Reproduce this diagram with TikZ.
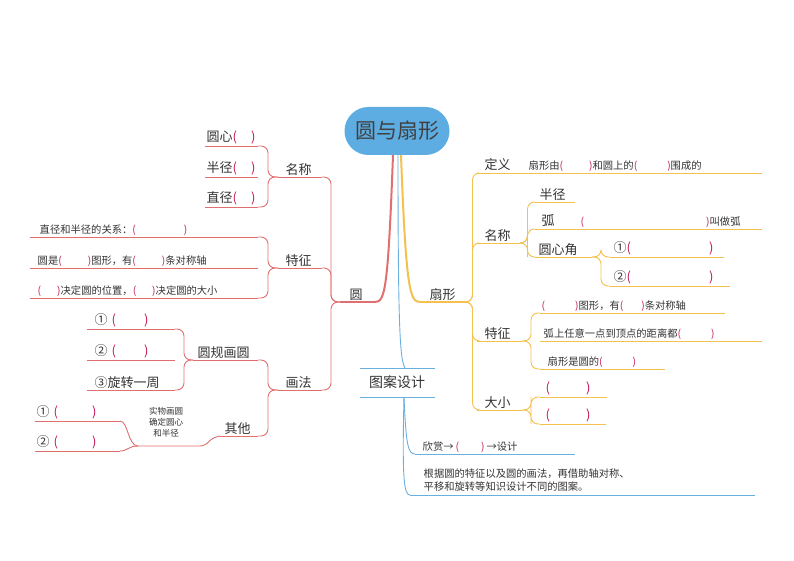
\documentclass[tikz,border=0pt]{standalone}
\usepackage{fontspec}
\setmainfont{Noto Sans CJK SC}
\usetikzlibrary{calc}
\definecolor{cred}{HTML}{E0706F}
\definecolor{cyel}{HTML}{F4C04E}
\definecolor{cblu}{HTML}{6AB0DE}
\definecolor{root}{HTML}{5DADE2}
\definecolor{paren}{HTML}{C2185B}
\newcommand\pp[1]{{\color{paren}(}\hspace{#1}{\color{paren})}}
\newcommand\bgf{\fontsize{13}{15}\selectfont}
\newcommand\smf{\fontsize{10.3}{13}\selectfont}
\newcommand\mmline[6]{%
 \coordinate (#1-l) at (#2,#4); \coordinate (#1-r) at (#3,#4);
 \draw[#5] (#1-l) -- (#1-r);
 \node[anchor=south west,inner sep=1.5pt,text=black!80] (#1) at (#1-l) {#6};}
\newcommand\mmconn[3]{\draw[#1,rounded corners=7pt] (#2) -| ($(#2)!0.5!(#3)$) |- (#3);}
\tikzset{
 R/.style={cred,line width=0.9pt}, RB/.style={cred,line width=2pt},
 Y/.style={cyel,line width=0.9pt}, YB/.style={cyel,line width=2pt},
 B/.style={cblu,line width=0.9pt},
}
\begin{document}
\begin{tikzpicture}[x=1pt,y=-1pt]
\useasboundingbox (0,0) rectangle (794,561);
\node[fill=root,rounded corners=24pt,minimum width=105pt,minimum height=48pt,font=\fontsize{21}{24}\selectfont,text=black!75] (root) at (397,131) {圆与扇形};
% ---- circle branch
\mmline{yuan}{340}{375}{302}{RB}{\bgf\hspace{8pt}圆}
\draw[RB] (393,155) .. controls (388,290) and (385,302) .. (yuan-r);
\mmline{mc}{278}{322}{177}{R}{\bgf\hspace{6pt}名称}
\mmline{tz}{278}{322}{268}{R}{\bgf\hspace{6pt}特征}
\mmline{hf}{278}{322}{390}{R}{\bgf\hspace{6pt}画法}
\mmconn{R}{yuan-l}{mc-r}\mmconn{R}{yuan-l}{tz-r}\mmconn{R}{yuan-l}{hf-r}
\mmline{yx}{205}{258}{146}{R}{\bgf 圆心\pp{14pt}}
\mmline{bj}{205}{258}{177}{R}{\bgf 半径\pp{14pt}}
\mmline{zj}{205}{258}{207}{R}{\bgf 直径\pp{14pt}}
\mmconn{R}{mc-l}{yx-r}\mmconn{R}{mc-l}{zj-r}
\mmline{gx}{30}{258}{237}{R}{\smf\hspace{8pt}直径和半径的关系：\pp{48pt}}
\mmline{dc}{30}{258}{268}{R}{\smf\hspace{6pt}圆是\pp{26pt}图形，有\pp{26pt}条对称轴}
\mmline{wz}{30}{258}{298}{R}{\smf\hspace{6pt}\pp{16pt}决定圆的位置，\pp{16pt}决定圆的大小}
\mmconn{R}{tz-l}{gx-r}\mmconn{R}{tz-l}{wz-r}
\mmline{gg}{193}{258}{360}{R}{\bgf\hspace{3pt}圆规画圆}
\mmline{qt}{220}{258}{436}{R}{\bgf\hspace{3pt}其他}
\mmconn{R}{hf-l}{gg-r}\mmconn{R}{hf-l}{qt-r}
\mmline{g1}{87}{175}{329}{R}{\bgf\hspace{6pt}①\hspace{4pt}\pp{28pt}}
\mmline{g2}{87}{175}{360}{R}{\bgf\hspace{6pt}②\hspace{4pt}\pp{28pt}}
\mmline{g3}{87}{175}{390}{R}{\bgf\hspace{6pt}③旋转一周}
\mmconn{R}{gg-l}{g1-r}\mmconn{R}{gg-l}{g3-r}
\node[align=center,font=\fontsize{8.5}{11}\selectfont,text=black!80] (sw) at (166,422) {实物画圆\\确定圆心\\和半径};
\coordinate (qj) at (138,446);
\draw[R,rounded corners=5pt] (qj) -- (205,446) -- (212,438) -- (qt-l);
\mmline{q1}{35}{120}{421}{R}{\bgf ①\hspace{4pt}\pp{34pt}}
\mmline{q2}{35}{120}{451}{R}{\bgf ②\hspace{4pt}\pp{34pt}}
\draw[R] (qj) .. controls (128,446) and (128,421) .. (q1-r);
\draw[R] (qj) .. controls (128,446) and (128,451) .. (q2-r);
% ---- sector branch
\mmline{sx}{420}{468}{302}{YB}{\bgf\hspace{8pt}扇形}
\draw[YB] (401,155) .. controls (406,290) and (410,302) .. (sx-l);
\mmline{dy}{477}{762}{173}{Y}{\bgf\hspace{6pt}定义\hspace{18pt}\smf 扇形由\pp{26pt}和圆上的\pp{30pt}围成的}
\mmline{smc}{477}{520}{243}{Y}{\bgf\hspace{6pt}名称}
\mmline{stz}{477}{522}{341}{Y}{\bgf\hspace{6pt}特征}
\mmline{dx}{477}{522}{410}{Y}{\bgf\hspace{6pt}大小}
\mmconn{Y}{sx-r}{dy-l}\mmconn{Y}{sx-r}{smc-l}\mmconn{Y}{sx-r}{stz-l}\mmconn{Y}{sx-r}{dx-l}
\mmline{sbj}{535}{575}{202}{Y}{\bgf\hspace{3pt}半径}
\mmline{hu}{535}{762}{229}{Y}{\bgf\hspace{5pt}弧\hspace{26pt}\smf\pp{122pt}叫做弧}
\mmline{yxj}{535}{592}{257}{Y}{\bgf\hspace{2pt}圆心角}
\mmconn{Y}{smc-r}{sbj-l}\mmconn{Y}{smc-r}{hu-l}\mmconn{Y}{smc-r}{yxj-l}
\mmline{j1}{610}{724}{257}{Y}{\bgf\hspace{2pt}①\pp{78pt}}
\mmline{j2}{610}{730}{286}{Y}{\bgf\hspace{2pt}②\pp{78pt}}
\mmconn{Y}{yxj-r}{j1-l}\mmconn{Y}{yxj-r}{j2-l}
\mmline{t1}{540}{725}{313}{Y}{\smf\pp{30pt}图形，有\pp{18pt}条对称轴}
\mmline{t2}{540}{762}{341}{Y}{\smf\hspace{2pt}弧上任意一点到顶点的距离都\pp{30pt}}
\mmline{t3}{540}{665}{369}{Y}{\smf\hspace{6pt}扇形是圆的\pp{30pt}}
\mmconn{Y}{stz-r}{t1-l}\mmconn{Y}{stz-r}{t3-l}
\mmline{d1}{540}{607}{397}{Y}{\bgf\hspace{4pt}\pp{36pt}}
\mmline{d2}{540}{606}{424}{Y}{\bgf\hspace{4pt}\pp{36pt}}
\mmconn{Y}{dx-r}{d1-l}\mmconn{Y}{dx-r}{d2-l}
% ---- pattern design
\coordinate (ta) at (360,368); \coordinate (tb) at (435,368);
\coordinate (ba) at (360,397); \coordinate (bb) at (435,397);
\draw[B] (ta) -- (tb); \draw[B] (ba) -- (bb);
\node[font=\fontsize{14}{16}\selectfont,text=black!80] (ta-n) at (397,382) {图案设计};
\coordinate (tin) at (405,368); \coordinate (tout) at (404,397);
\draw[B] (398,155) .. controls (398,330) and (400,360) .. (tin);
\mmline{xs}{415}{575}{454}{B}{\smf\hspace{6pt}欣赏→\hspace{2pt}\pp{22pt}\hspace{2pt}→设计}
\coordinate (bl-l) at (410,495); \coordinate (bl-r) at (755,495);
\draw[B] (bl-l) -- (bl-r);
\node[anchor=south west,align=left,font=\smf,text=black!80,inner sep=1.5pt] (bl) at (422,493) {根据圆的特征以及圆的画法，再借助轴对称、\\平移和旋转等知识设计不同的图案。};
\draw[B] (tout) .. controls (406,445) and (408,454) .. (xs-l);
\draw[B] (tout) .. controls (402,480) and (404,495) .. (bl-l);
\end{tikzpicture}
\end{document}
